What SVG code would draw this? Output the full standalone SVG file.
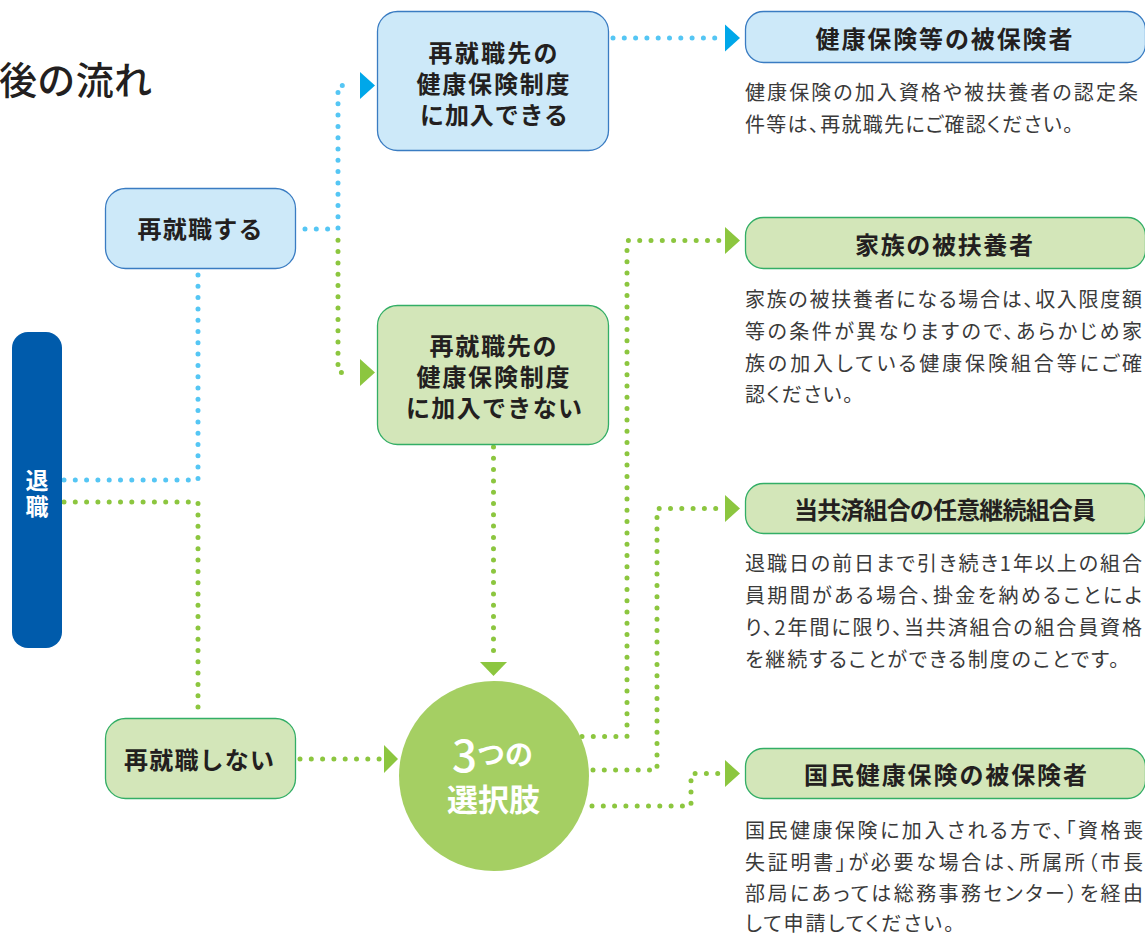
<svg xmlns="http://www.w3.org/2000/svg" width="1145" height="934" viewBox="0 0 1145 934">
<style>
text{font-family:"Noto Sans CJK JP","Noto Sans",sans-serif;dominant-baseline:central}
.lbl{font-size:24px;font-weight:bold;fill:#231f20;text-anchor:middle}
.hdr{font-size:24px;font-weight:bold;fill:#231f20;text-anchor:middle}
.desc{font-size:20px;fill:#3a3a3a;font-feature-settings:"palt"}
.bbox{fill:#cde9f9;stroke:#3a7cc2;stroke-width:1.3}
.gbox{fill:#d3e6b9;stroke:#33ae66;stroke-width:1.3}
.dotb{fill:none;stroke:#55c6f4;stroke-width:5;stroke-linecap:round;stroke-dasharray:0 11.3}
.dotg{fill:none;stroke:#8cc63f;stroke-width:5;stroke-linecap:round;stroke-dasharray:0 11.3}
.ab{fill:#00a7e9}
.ag{fill:#8cc63f}
.wt{fill:#fff;font-weight:bold;text-anchor:middle}
</style>
<rect width="1145" height="934" fill="#fff"/>
<text x="-1" y="77" font-size="38" font-weight="500" fill="#231f20" textLength="153" lengthAdjust="spacing">後の流れ</text>

<g id="connectors">
<path class="dotb" d="M64 480 H198 V270"/>
<path class="dotb" d="M305 229 H338 V85.5 H352"/>
<polygon class="ab" points="360,72 375,85.5 360,99"/>
<path class="dotb" d="M613 38 H717"/>
<polygon class="ab" points="725,24.5 740,38 725,51.5"/>
<path class="dotg" d="M64 502 H198 V717"/>
<path class="dotg" d="M338 240.3 V372.5 H352"/>
<polygon class="ag" points="360,359 375,372.5 360,386"/>
<path class="dotg" d="M493.5 447 V656"/>
<polygon class="ag" points="480,662 507,662 493.5,676"/>
<path class="dotg" d="M300 759 H382"/>
<polygon class="ag" points="384,745 398,759 384,773"/>
<path class="dotg" d="M582 736.5 H627 V240.5 H720"/>
<polygon class="ag" points="725,227 740,240.5 725,254"/>
<path class="dotg" d="M593 770 H657 V508.5 H720"/>
<polygon class="ag" points="725,495 740,508.5 725,522"/>
<path class="dotg" d="M592 806 H691 V773.5 H720"/>
<polygon class="ag" points="725,760 740,773.5 725,787"/>
</g>

<g id="taishoku">
<rect x="12" y="332" width="50" height="316" rx="16" fill="#005bab"/>
<text class="wt" x="37" y="478.5" font-size="23">退</text>
<text class="wt" x="37" y="504.5" font-size="23">職</text>
</g>

<g id="saishushoku-suru">
<rect class="bbox" x="105.5" y="188.5" width="190" height="80" rx="20"/>
<text class="lbl" x="200" y="227" textLength="125" lengthAdjust="spacing">再就職する</text>
</g>

<g id="saishushoku-shinai">
<rect class="gbox" x="105.5" y="718.5" width="190" height="80" rx="20"/>
<text class="lbl" x="199" y="758" textLength="150" lengthAdjust="spacing">再就職しない</text>
</g>

<g id="kanyu-dekiru">
<rect class="bbox" x="377.5" y="11.5" width="231" height="139" rx="20"/>
<text class="lbl" x="493" y="51" textLength="129" lengthAdjust="spacing">再就職先の</text>
<text class="lbl" x="493" y="82" textLength="153" lengthAdjust="spacing">健康保険制度</text>
<text class="lbl" x="494" y="113" textLength="148" lengthAdjust="spacing">に加入できる</text>
</g>

<g id="kanyu-dekinai">
<rect class="gbox" x="377.5" y="305.5" width="231" height="139" rx="20"/>
<text class="lbl" x="493" y="344" textLength="127" lengthAdjust="spacing">再就職先の</text>
<text class="lbl" x="493" y="375" textLength="153" lengthAdjust="spacing">健康保険制度</text>
<text class="lbl" x="494" y="406" textLength="176" lengthAdjust="spacing">に加入できない</text>
</g>

<g id="sentakushi">
<circle cx="494" cy="776" r="95" fill="#a5cf63"/>
<text class="wt" x="492.5" y="753" font-size="28"><tspan font-size="44" font-weight="500">3</tspan>つの</text>
<text class="wt" x="493.5" y="797" font-size="31" textLength="93" lengthAdjust="spacing">選択肢</text>
</g>

<g id="kenpo">
<rect class="bbox" x="745.5" y="11.5" width="400" height="51" rx="18"/>
<text class="hdr" x="944" y="37" textLength="257" lengthAdjust="spacing">健康保険等の被保険者</text>
<text class="desc" x="745" y="91" textLength="393" lengthAdjust="spacing">健康保険の加入資格や被扶養者の認定条</text>
<text class="desc" x="745" y="123" textLength="328" lengthAdjust="spacing">件等は、再就職先にご確認ください。</text>
</g>

<g id="fuyou">
<rect class="gbox" x="745.5" y="217.5" width="400" height="51" rx="18"/>
<text class="hdr" x="944" y="243" textLength="178" lengthAdjust="spacing">家族の被扶養者</text>
<text class="desc" x="745" y="298" textLength="397" lengthAdjust="spacing">家族の被扶養者になる場合は、収入限度額</text>
<text class="desc" x="745" y="330" textLength="397" lengthAdjust="spacing">等の条件が異なりますので、あらかじめ家</text>
<text class="desc" x="745" y="362" textLength="397" lengthAdjust="spacing">族の加入している健康保険組合等にご確</text>
<text class="desc" x="745" y="393" textLength="108" lengthAdjust="spacing">認ください。</text>
</g>

<g id="nini">
<rect class="gbox" x="745.5" y="483.5" width="400" height="50" rx="18"/>
<text class="hdr" x="945" y="508" textLength="302" lengthAdjust="spacing">当共済組合の任意継続組合員</text>
<text class="desc" x="745" y="562" textLength="397" lengthAdjust="spacing">退職日の前日まで引き続き1年以上の組合</text>
<text class="desc" x="745" y="594" textLength="397" lengthAdjust="spacing">員期間がある場合、掛金を納めることによ</text>
<text class="desc" x="745" y="626" textLength="397" lengthAdjust="spacing">り、2年間に限り、当共済組合の組合員資格</text>
<text class="desc" x="745" y="658" textLength="374" lengthAdjust="spacing">を継続することができる制度のことです。</text>
</g>

<g id="kokuho">
<rect class="gbox" x="745.5" y="748.5" width="400" height="50" rx="18"/>
<text class="hdr" x="945.5" y="773" textLength="283" lengthAdjust="spacing">国民健康保険の被保険者</text>
<text class="desc" x="745" y="829" textLength="398" lengthAdjust="spacing">国民健康保険に加入される方で、「資格喪</text>
<text class="desc" x="745" y="861" textLength="398" lengthAdjust="spacing">失証明書」が必要な場合は、所属所（市長</text>
<text class="desc" x="745" y="892" textLength="398" lengthAdjust="spacing">部局にあっては総務事務センター）を経由</text>
<text class="desc" x="745" y="922" textLength="209" lengthAdjust="spacing">して申請してください。</text>
</g>
</svg>
